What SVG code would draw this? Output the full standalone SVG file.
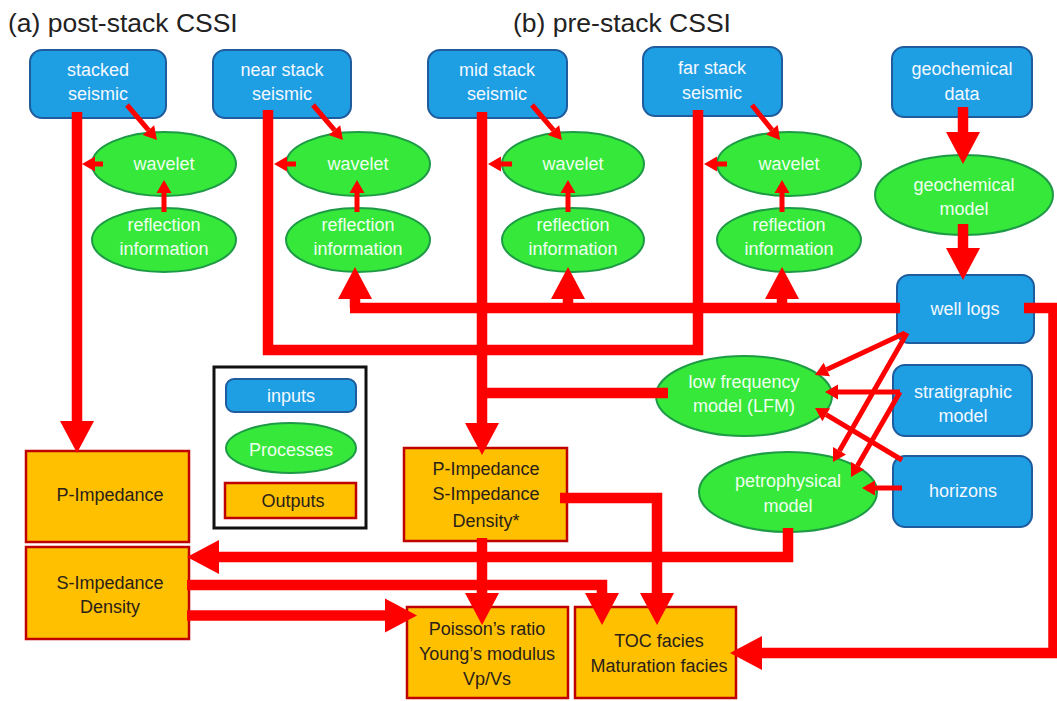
<svg xmlns="http://www.w3.org/2000/svg" width="1057" height="701" viewBox="0 0 1057 701">
<style>
.inp{fill:#1E9FE3;stroke:#1F5C9E;stroke-width:2}
.proc{fill:#36E83A;stroke:#1E9A46;stroke-width:2}
.out{fill:#FFC000;stroke:#C00000;stroke-width:2.5}
text{font-family:"Liberation Sans",Arial,sans-serif;font-size:18px;text-anchor:middle}
.wt{fill:#F4F8FF}
.gt{fill:#EFFFEF}
.dt{fill:#2A2119}
.title{font-size:26.5px;text-anchor:start;fill:#222}
.thick{fill:none;stroke:#FF0000;stroke-width:10.5;stroke-linejoin:miter}
.thin{fill:none;stroke:#FF0000;stroke-width:5}
</style>
<defs>
<marker id="big" markerUnits="userSpaceOnUse" markerWidth="34" markerHeight="36" viewBox="0 -18 34 36" refX="0" refY="0" orient="auto" overflow="visible">
<path d="M0,-17 L32,0 L0,17 z" fill="#FF0000"/>
</marker>
<marker id="small" markerUnits="userSpaceOnUse" markerWidth="14" markerHeight="16" viewBox="0 -8 14 16" refX="0" refY="0" orient="auto" overflow="visible">
<path d="M0,-7.5 L13,0 L0,7.5 z" fill="#FF0000"/>
</marker>
</defs>
<rect width="1057" height="701" fill="#FFFFFF"/>
<text class="title" x="8" y="32">(a) post-stack CSSI</text>
<text class="title" x="513" y="32">(b) pre-stack CSSI</text>

<g id="legend">
<rect x="214" y="367" width="152" height="161" fill="none" stroke="#111" stroke-width="3"/>
<rect class="inp" x="226" y="379" width="130" height="33" rx="8"/>
<text class="wt" x="291" y="402">inputs</text>
<ellipse class="proc" cx="291" cy="448" rx="65" ry="25"/>
<text class="gt" x="291" y="456">Processes</text>
<rect class="out" x="225" y="483" width="131" height="35"/>
<text class="dt" x="293" y="507">Outputs</text>
</g>

<g id="stacked-seismic">
<rect class="inp" x="30" y="50" width="136" height="68" rx="12"/>
<text class="wt" x="98" y="76">stacked</text>
<text class="wt" x="98" y="100">seismic</text>
</g>
<g id="near-stack-seismic">
<rect class="inp" x="213" y="50" width="138" height="68" rx="12"/>
<text class="wt" x="282" y="76">near stack</text>
<text class="wt" x="282" y="100">seismic</text>
</g>
<g id="mid-stack-seismic">
<rect class="inp" x="428" y="50" width="139" height="68" rx="12"/>
<text class="wt" x="497" y="76">mid stack</text>
<text class="wt" x="497" y="100">seismic</text>
</g>
<g id="far-stack-seismic">
<rect class="inp" x="643" y="47" width="139" height="69" rx="12"/>
<text class="wt" x="712" y="74">far stack</text>
<text class="wt" x="712" y="99">seismic</text>
</g>
<g id="geochemical-data">
<rect class="inp" x="892" y="47" width="140" height="70" rx="12"/>
<text class="wt" x="962" y="75">geochemical</text>
<text class="wt" x="962" y="100">data</text>
</g>

<g id="wavelet-a">
<ellipse class="proc" cx="164" cy="164" rx="72" ry="32"/>
<text class="gt" x="164" y="170">wavelet</text>
</g>
<g id="reflection-a">
<ellipse class="proc" cx="164" cy="240" rx="72" ry="32"/>
<text class="gt" x="164" y="231">reflection</text>
<text class="gt" x="164" y="255">information</text>
</g>
<g id="wavelet-near">
<ellipse class="proc" cx="358" cy="164" rx="72" ry="32"/>
<text class="gt" x="358" y="170">wavelet</text>
</g>
<g id="reflection-near">
<ellipse class="proc" cx="358" cy="240" rx="72" ry="32"/>
<text class="gt" x="358" y="231">reflection</text>
<text class="gt" x="358" y="255">information</text>
</g>
<g id="wavelet-mid">
<ellipse class="proc" cx="573" cy="164" rx="71" ry="32"/>
<text class="gt" x="573" y="170">wavelet</text>
</g>
<g id="reflection-mid">
<ellipse class="proc" cx="573" cy="240" rx="71" ry="32"/>
<text class="gt" x="573" y="231">reflection</text>
<text class="gt" x="573" y="255">information</text>
</g>
<g id="wavelet-far">
<ellipse class="proc" cx="789" cy="164" rx="72" ry="32"/>
<text class="gt" x="789" y="170">wavelet</text>
</g>
<g id="reflection-far">
<ellipse class="proc" cx="789" cy="240" rx="72" ry="32"/>
<text class="gt" x="789" y="231">reflection</text>
<text class="gt" x="789" y="255">information</text>
</g>
<g id="geochemical-model">
<ellipse class="proc" cx="964" cy="195" rx="89" ry="40"/>
<text class="gt" x="964" y="191">geochemical</text>
<text class="gt" x="964" y="215">model</text>
</g>

<g id="well-logs">
<rect class="inp" x="897" y="275" width="137" height="68" rx="12"/>
<text class="wt" x="965" y="315">well logs</text>
</g>
<g id="stratigraphic-model">
<rect class="inp" x="893" y="365" width="139" height="71" rx="12"/>
<text class="wt" x="963" y="398">stratigraphic</text>
<text class="wt" x="963" y="422">model</text>
</g>
<g id="horizons">
<rect class="inp" x="893" y="456" width="139" height="71" rx="12"/>
<text class="wt" x="963" y="497">horizons</text>
</g>
<g id="lfm">
<ellipse class="proc" cx="744" cy="396" rx="88" ry="40"/>
<text class="gt" x="744" y="388">low frequency</text>
<text class="gt" x="744" y="412">model (LFM)</text>
</g>
<g id="petrophysical-model">
<ellipse class="proc" cx="788" cy="492" rx="89" ry="40"/>
<text class="gt" x="788" y="487">petrophysical</text>
<text class="gt" x="788" y="512">model</text>
</g>

<g id="p-impedance">
<rect class="out" x="26" y="451" width="163" height="91"/>
<text class="dt" x="110" y="501">P-Impedance</text>
</g>
<g id="s-impedance-density">
<rect class="out" x="26" y="547" width="163" height="92"/>
<text class="dt" x="110" y="589">S-Impedance</text>
<text class="dt" x="110" y="613">Density</text>
</g>
<g id="psd-star">
<rect class="out" x="404" y="448" width="163" height="93"/>
<text class="dt" x="486" y="475">P-Impedance</text>
<text class="dt" x="486" y="500">S-Impedance</text>
<text class="dt" x="486" y="527">Density*</text>
</g>
<g id="poisson">
<rect class="out" x="407" y="607" width="161" height="91"/>
<text class="dt" x="487" y="635">Poisson’s ratio</text>
<text class="dt" x="487" y="660">Young’s modulus</text>
<text class="dt" x="487" y="685">Vp/Vs</text>
</g>
<g id="toc">
<rect class="out" x="575" y="607" width="161" height="91"/>
<text class="dt" x="659" y="647">TOC facies</text>
<text class="dt" x="659" y="672">Maturation facies</text>
</g>

<g id="connectors">
<path class="thick" d="M77,112 V421" marker-end="url(#big)"/>
<path class="thick" d="M268,110 V350 H698 V110"/>
<path class="thick" d="M482,112 V423" marker-end="url(#big)"/>
<path class="thick" d="M482,393 H668"/>
<path class="thick" d="M900,308 H350"/>
<path class="thick" d="M355,308 V299" marker-end="url(#big)"/>
<path class="thick" d="M568,308 V299" marker-end="url(#big)"/>
<path class="thick" d="M782,308 V299" marker-end="url(#big)"/>
<path class="thick" d="M1024,308 H1053.5 V653 H762" marker-end="url(#big)"/>
<path class="thick" d="M963,107 V132" marker-end="url(#big)"/>
<path class="thick" d="M963,224 V248" marker-end="url(#big)"/>
<path class="thick" d="M788,528 V557 H219" marker-end="url(#big)"/>
<path class="thick" d="M187,585 H602 V593" marker-end="url(#big)"/>
<path class="thick" d="M187,615.5 H385" marker-end="url(#big)"/>
<path class="thick" d="M482,538 V593" marker-end="url(#big)"/>
<path class="thick" d="M560,498 H657 V593" marker-end="url(#big)"/>
<path class="thin" d="M127,105 L148.5,130.1" marker-end="url(#small)"/>
<path class="thin" d="M313,105 L334.5,130.1" marker-end="url(#small)"/>
<path class="thin" d="M532,105 L553.5,130.1" marker-end="url(#small)"/>
<path class="thin" d="M752,105 L771.9,129.8" marker-end="url(#small)"/>
<path class="thin" d="M103,164 H95" marker-end="url(#small)"/>
<path class="thin" d="M296,164 H287" marker-end="url(#small)"/>
<path class="thin" d="M512,164 H501" marker-end="url(#small)"/>
<path class="thin" d="M727,164 H717" marker-end="url(#small)"/>
<path class="thin" d="M164,212 V193" marker-end="url(#small)"/>
<path class="thin" d="M357,212 V193" marker-end="url(#small)"/>
<path class="thin" d="M568,212 V193" marker-end="url(#small)"/>
<path class="thin" d="M782,212 V193" marker-end="url(#small)"/>
<path class="thin" d="M905,333 L826.8,369.5" marker-end="url(#small)"/>
<path class="thin" d="M907,333 L839.5,450.7" marker-end="url(#small)"/>
<path class="thin" d="M900,392 H838" marker-end="url(#small)"/>
<path class="thin" d="M900,392 L857.5,465.7" marker-end="url(#small)"/>
<path class="thin" d="M902,460 L826.2,414.7" marker-end="url(#small)"/>
<path class="thin" d="M902,488 H875" marker-end="url(#small)"/>
</g>
</svg>
